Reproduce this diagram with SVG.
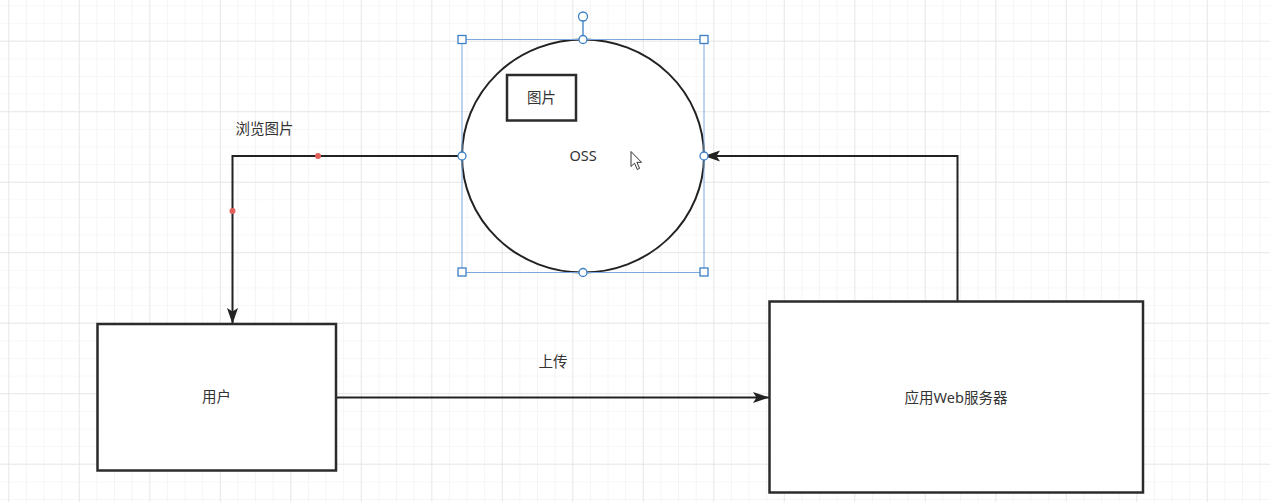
<svg xmlns="http://www.w3.org/2000/svg" width="1270" height="502" viewBox="0 0 1270 502">
  <defs>
    <pattern id="minor" x="8.3" y="5.45" width="17.625" height="17.625" patternUnits="userSpaceOnUse">
      <path d="M0 0V17.625M0 0H17.625" fill="none" stroke="#efefef" stroke-width="1.2"/>
    </pattern>
    <pattern id="major" x="8.3" y="40.7" width="70.5" height="70.5" patternUnits="userSpaceOnUse">
      <path d="M0 0V70.5M0 0H70.5" fill="none" stroke="#e2e2e2" stroke-width="1.3"/>
    </pattern>
    <marker id="arrow" viewBox="0 0 16 12" refX="16" refY="6" markerWidth="16" markerHeight="12" markerUnits="userSpaceOnUse" orient="auto">
      <path d="M0 0.5L16 6L0 11.5L3.5 6Z" fill="#222"/>
    </marker>
    <style>
      .box { fill: #fff; stroke: #2b2b2b; stroke-width: 2.5; }
      .edge { fill: none; stroke: #222; stroke-width: 2; }
      .lbl { font-family: "Noto Sans", "Noto Sans CJK SC", sans-serif; font-size: 14.5px; fill: #333; }
      .sel { fill: none; stroke: #7ea8dc; stroke-width: 1; }
      .hs { fill: #fff; stroke: #3b7fc4; stroke-width: 1.3; }
      .dot { fill: #e0605a; }
    </style>
  </defs>

  <rect width="1270" height="502" fill="#fff"/>
  <rect width="1270" height="502" fill="url(#minor)"/>
  <rect width="1270" height="502" fill="url(#major)"/>

  <g id="connectors">
    <path class="edge" d="M462 156H232.5V324" marker-end="url(#arrow)"/>
    <path class="edge" d="M336 397.5H769" marker-end="url(#arrow)"/>
    <path class="edge" d="M957.5 301V156H704" marker-end="url(#arrow)"/>
    <circle class="dot" cx="318" cy="156" r="3"/>
    <circle class="dot" cx="232.5" cy="211" r="3"/>
    <text class="lbl" x="264.5" y="133.5" text-anchor="middle">浏览图片</text>
    <text class="lbl" x="553" y="366.5" text-anchor="middle">上传</text>
  </g>

  <g id="oss">
    <ellipse cx="583" cy="156" rx="121" ry="116.5" fill="#fff" stroke="#222" stroke-width="2"/>
    <text class="lbl" x="583" y="161" text-anchor="middle">OSS</text>
  </g>

  <g id="image">
    <rect class="box" x="507" y="75" width="69" height="45.5"/>
    <text class="lbl" x="541.5" y="103" text-anchor="middle">图片</text>
  </g>

  <g id="user">
    <rect class="box" x="97.5" y="324" width="238.5" height="146.5"/>
    <text class="lbl" x="216.5" y="402" text-anchor="middle">用户</text>
  </g>

  <g id="server">
    <rect class="box" x="769.5" y="301.5" width="373.5" height="191"/>
    <text class="lbl" x="956" y="403" text-anchor="middle" font-size="15.5">应用Web服务器</text>
  </g>

  <g id="selection">
    <rect class="sel" x="462" y="39.5" width="242" height="233"/>
    <line x1="583" y1="21" x2="583" y2="35" stroke="#3b7fc4" stroke-width="1.3"/>
    <circle class="hs" cx="583" cy="16.5" r="4.5"/>
    <rect class="hs" x="458" y="35.5" width="8" height="8"/>
    <rect class="hs" x="700" y="35.5" width="8" height="8"/>
    <rect class="hs" x="458" y="268" width="8" height="8"/>
    <rect class="hs" x="700" y="268" width="8" height="8"/>
    <circle class="hs" cx="583" cy="39.5" r="4"/>
    <circle class="hs" cx="583" cy="272.5" r="4"/>
    <circle class="hs" cx="462" cy="156" r="4"/>
    <circle class="hs" cx="704" cy="156" r="4"/>
  </g>

  <g id="cursor">
    <path d="M631 151.5V166.5L634.5 163.2L637.3 169.5L639.6 168.4L636.9 162.3L641.5 162.3Z" fill="#fff" stroke="#333" stroke-width="1" stroke-linejoin="round"/>
  </g>
</svg>
